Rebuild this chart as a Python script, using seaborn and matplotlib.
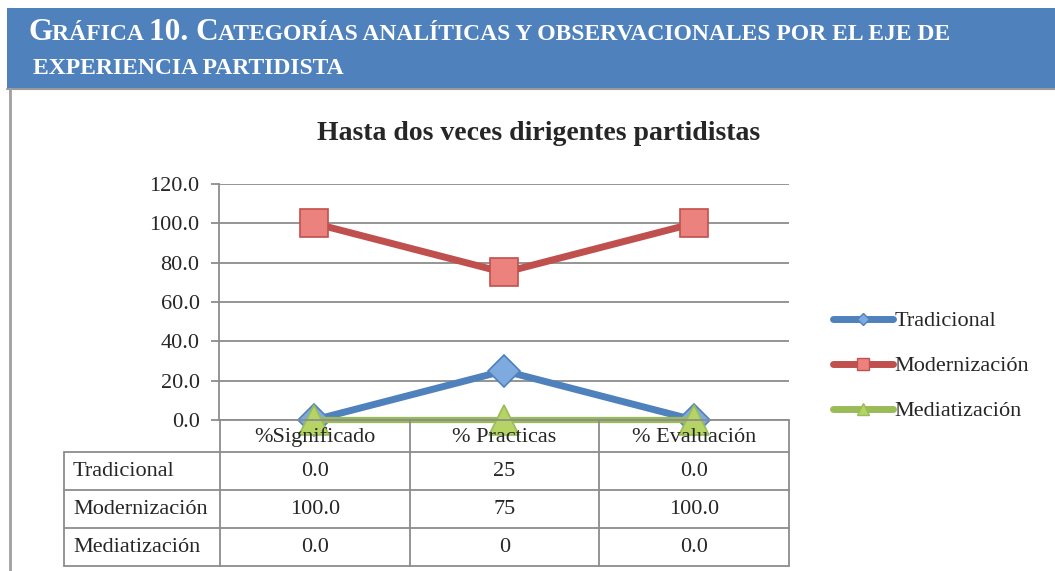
import matplotlib
matplotlib.use("Agg")
import numpy as np
import pandas as pd
import matplotlib.pyplot as plt
import matplotlib.colors as mcolors
import seaborn as sns
from matplotlib.lines import Line2D
from matplotlib.patches import Rectangle

# datos de la gráfica
categories = ["%Significado", "% Practicas", "% Evaluación"]
series_names = ["Tradicional", "Modernización", "Mediatización"]
tradicional = [0.0, 25, 0.0]
modernizacion = [100.0, 75, 100.0]
mediatizacion = [0.0, 0, 0.0]
y_ticks = [0, 20, 40, 60, 80, 100, 120]
col_formats = ["{:.1f}", "{:.0f}", "{:.1f}"]

line_colors = ["#4F81BD", "#C0504D", "#9BBB59"]
marker_fills = ["#7EAAE0", "#EC827E", "#B6D466"]
marker_styles = ["D", "s", "^"]
marker_sizes = [16, 20, 22]
legend_marker_sizes = [6, 8, 8]

title = "Hasta dos veces dirigentes partidistas"
header_line1 = [("G", "big"), ("RÁFICA ", "small"), ("10. C", "big"),
                ("ATEGORÍAS ANALÍTICAS Y OBSERVACIONALES POR EL EJE DE", "small")]
header_line2 = [("EXPERIENCIA PARTIDISTA", "small")]

sns.set_style("white")
plt.rcParams["font.family"] = ["Liberation Serif", "DejaVu Serif"]

W, H = 1055, 571
fig = plt.figure(figsize=(W / 100, H / 100), dpi=100)

def fx(px):
    return px / W

def fy(py):
    return 1 - py / H

GRID = "#8c8c8c"

# fondo: banda azul y línea gris a la izquierda
bg = fig.add_axes([0, 0, 1, 1])
bg.set_xlim(0, W)
bg.set_ylim(H, 0)
bg.axis("off")
bg.add_patch(Rectangle((7, 8), W - 7, 80, facecolor="#4F81BD", edgecolor="none"))
bg.plot([7, W], [88.5, 88.5], color="#9a9a9a", lw=1.5)
bg.plot([10, 10], [89, H], color="#a0a0a0", lw=2)

sizes = {"big": 22.5, "small": 17}
desc = {k: v * 0.217 for k, v in sizes.items()}

def header(x, y, pieces):
    first, kind = pieces[0]
    prev = bg.text(x, y, first, fontsize=sizes[kind], color="white",
                   fontweight="bold", va="baseline", ha="left")
    prev_kind = kind
    for txt, kind in pieces[1:]:
        prev = bg.annotate(txt, xy=(1, 0), xycoords=prev,
                           xytext=(0, desc[prev_kind] - desc[kind]),
                           textcoords="offset points", fontsize=sizes[kind],
                           color="white", fontweight="bold", va="bottom", ha="left")
        prev_kind = kind

header(28, 40, header_line1)
header(33, 74.5, header_line2)

fig.text(fx(539), fy(133), title, fontsize=20, fontweight="bold",
         ha="center", va="center")

# gráfica de líneas
ax = fig.add_axes([fx(219), fy(420), fx(789) - fx(219), fy(184) - fy(420)])
rows = []
for name, vals in zip(series_names, [tradicional, modernizacion, mediatizacion]):
    for i, v in enumerate(vals):
        rows.append({"pos": i, "categoria": categories[i], "serie": name, "valor": v})
df = pd.DataFrame(rows)

palette = dict(zip(series_names, line_colors))
markers = dict(zip(series_names, marker_styles))
sns.lineplot(data=df, x="pos", y="valor", hue="serie", style="serie",
             hue_order=series_names, style_order=series_names,
             palette=palette, markers=markers, dashes=False, lw=5,
             legend=False, ax=ax, sort=False)

zorders = [3, 4, 5]
for line in ax.lines:
    c = mcolors.to_hex(line.get_color()).upper()
    if c in line_colors:
        k = line_colors.index(c)
        line.set_markerfacecolor(marker_fills[k])
        line.set_markeredgecolor(line_colors[k])
        line.set_markeredgewidth(1.2)
        line.set_markersize(marker_sizes[k])
        line.set_zorder(zorders[k])
        line.set_clip_on(False)
        if k == 2:
            line.set_linewidth(4.5)

ax.set_xlim(-0.5, len(categories) - 0.5)
ax.set_ylim(y_ticks[0], y_ticks[-1])
ax.set_yticks(y_ticks)
ax.set_yticklabels([f"{t:.1f}" for t in y_ticks], fontsize=16)
ax.set_xticks([])
ax.set_xlabel("")
ax.set_ylabel("")
ax.grid(axis="y", color=GRID, lw=1.3)
ax.set_axisbelow(True)
for s in ["top", "right", "bottom"]:
    ax.spines[s].set_visible(False)
ax.spines["left"].set_color(GRID)
ax.spines["left"].set_linewidth(1.3)
ax.tick_params(axis="y", length=6, width=1.3, color=GRID, left=True, pad=8)

# tabla de datos bajo el eje x
label_w = 156
col_w = (789 - 220) / len(categories)
row_h = [32, 38, 38, 38]
axt = fig.add_axes([fx(64), fy(566), fx(789) - fx(64), fy(420) - fy(566)])
total_w = label_w + col_w * len(categories)
axt.set_xlim(0, total_w)
axt.set_ylim(sum(row_h), 0)
axt.axis("off")

tops = np.concatenate([[0], np.cumsum(row_h)])
xs = label_w + col_w * np.arange(len(categories) + 1)
for i, y in enumerate(tops):
    x0 = label_w if i == 0 else 0
    axt.plot([x0, total_w], [y, y], color=GRID, lw=1.3, clip_on=False)
axt.plot([0, 0], [tops[1], tops[-1]], color=GRID, lw=1.3, clip_on=False)
for x in xs:
    axt.plot([x, x], [0, tops[-1]], color=GRID, lw=1.3, clip_on=False)

for j, cat in enumerate(categories):
    axt.text(xs[j] + col_w / 2, (tops[0] + tops[1]) / 2 + 1, cat,
             ha="center", va="center", fontsize=16)
for i, (name, vals) in enumerate(zip(series_names,
                                     [tradicional, modernizacion, mediatizacion])):
    yc = (tops[i + 1] + tops[i + 2]) / 2 + 1
    axt.text(9, yc, name, ha="left", va="center", fontsize=16)
    for j, v in enumerate(vals):
        axt.text(xs[j] + col_w / 2, yc, col_formats[j].format(v),
                 ha="center", va="center", fontsize=16)

# leyenda
handles = [Line2D([], [], color=line_colors[k], lw=5, marker=marker_styles[k],
                  markersize=legend_marker_sizes[k], markerfacecolor=marker_fills[k],
                  markeredgecolor=line_colors[k], solid_capstyle="round")
           for k in range(3)]
fig.legend(handles, series_names, loc="center left",
           bbox_to_anchor=(fx(833), fy(366)), frameon=False, fontsize=16,
           handlelength=2.7, handletextpad=0.05, labelspacing=1.1,
           borderpad=0, borderaxespad=0)

fig.savefig("out.png", dpi=100)
